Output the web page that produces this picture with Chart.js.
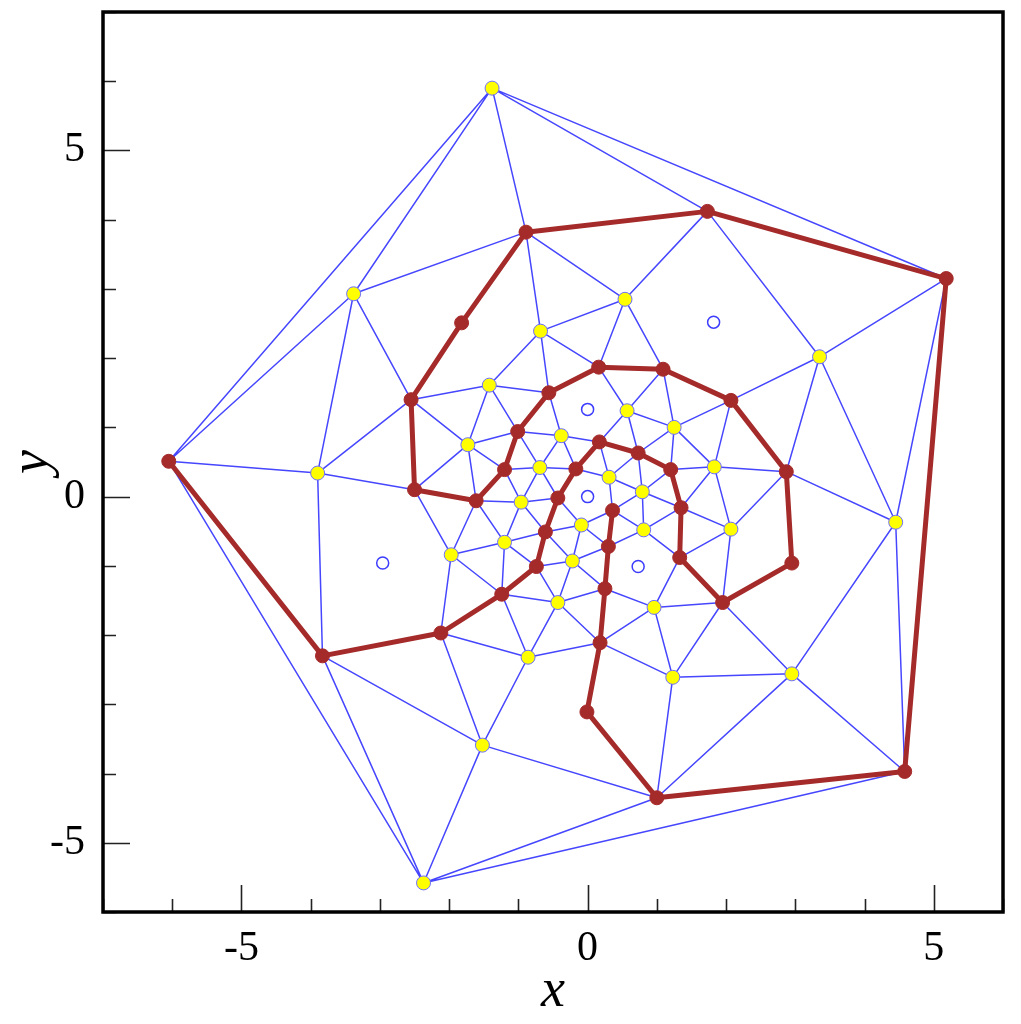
<!DOCTYPE html>
<html>
<head>
<meta charset="UTF-8">
<title>Mesh spiral</title>
<style>
  body { margin: 0; background: #fff; }
  #wrap { width: 1021px; height: 1024px; }
</style>
</head>
<body>
<div id="wrap"><canvas id="meshChart"></canvas></div>
<script src="https://cdn.jsdelivr.net/npm/chart.js"></script>
<script>
// yellow mesh nodes, named y1..y30
const yellowX = [-1.38, -3.38, -3.90, -2.37, -1.52, -0.86, 1.23, 2.95, 4.45, 3.35,
                 0.54, -0.68, -1.42, -1.73, 0.57, 1.25, 1.83, 2.07, 0.96, -0.43,
                 -1.97, -1.20, -0.96, -0.69, -0.38, 0.31, 0.79, -0.09, 0.81, -0.22];
const yellowY = [5.90, 2.93, 0.34, -5.58, -3.59, -2.32, -2.61, -2.56, -0.37, 2.02,
                 2.85, 2.39, 1.61, 0.75, 1.24, 1.00, 0.43, -0.47, -1.60, -1.53,
                 -0.84, -0.66, -0.08, 0.42, 0.88, 0.28, 0.07, -0.41, -0.48, -0.93];

// red spiral nodes in path order, named p0..p35
const redX = [0.36, 0.30, 0.25, 0.18, -0.01, 1.00, 4.58, 5.18, 1.73, -0.89,
              -1.82, -2.55, -2.50, -1.61, -1.20, -1.01, -0.56, 0.16, 1.09, 2.07,
              2.87, 2.95, 1.95, 1.33, 1.35, 1.20, 0.73, 0.17, -0.17, -0.43,
              -0.61, -0.74, -1.24, -2.12, -3.83, -6.05];
const redY = [-0.20, -0.72, -1.33, -2.11, -3.11, -4.35, -3.97, 3.15, 4.12, 3.82,
              2.51, 1.40, 0.10, -0.06, 0.39, 0.94, 1.50, 1.87, 1.84, 1.39,
              0.36, -0.96, -1.53, -0.88, -0.16, 0.39, 0.63, 0.79, 0.40, -0.02,
              -0.51, -1.01, -1.41, -1.97, -2.30, 0.51];

// open circles (cell centres)
const openX = [0.00, 0.00, 1.82, -2.96, 0.73];
const openY = [1.26, 0.00, 2.52, -0.96, -1.01];

// blue mesh edges
const meshEdges = [
  'y1 y2', 'y1 p35', 'y1 p9', 'y1 p8', 'y1 p7',
  'y2 p9', 'y2 p35', 'y2 y3', 'y2 p11',
  'p35 y3', 'p35 y4', 'y3 p11', 'y3 p12', 'y3 p34',
  'p34 y5', 'p34 y4', 'y4 y5', 'y4 p5', 'y4 p6',
  'y5 p33', 'y5 y6', 'y5 p5',
  'y6 p33', 'y6 p32', 'y6 y20', 'y6 p3',
  'p3 y20', 'p3 y19', 'p3 y7',
  'y7 y19', 'y7 p22', 'y7 y8', 'y7 p5', 'p5 y8',
  'y8 p22', 'y8 y9', 'y8 p6', 'p6 y9',
  'p7 y10', 'p7 y9', 'p8 y10', 'p8 y11', 'p9 y12', 'p9 y11',
  'y11 y12', 'y11 p17', 'y11 p18',
  'y10 p19', 'y10 p20', 'y10 y9', 'y9 p20',
  'p20 y17', 'p20 y18', 'p22 y18', 'p22 y19',
  'y18 y17', 'y18 p23', 'y18 p24',
  'y17 p25', 'y17 p19', 'y17 p24', 'y17 y16', 'p19 y16',
  'p11 y13', 'p11 y14', 'p12 y14', 'p12 y21',
  'p13 y14', 'p13 y23', 'p13 y21', 'p13 y22',
  'p14 y14', 'p14 y24', 'p14 y23',
  'y14 y13', 'y14 p15', 'y13 y12', 'y13 p16', 'y13 p15',
  'y12 p16', 'y12 p17', 'p16 y25', 'p17 y15',
  'p18 y15', 'p18 y16', 'y15 y16', 'y15 p27', 'y15 p26',
  'y16 p26', 'y16 p25', 'p26 y26', 'p26 y27', 'p25 y27',
  'p24 y29', 'p24 y27', 'p23 y29', 'p23 y19',
  'p27 y25', 'p27 y26', 'y25 p15', 'y25 y24', 'y25 p28',
  'p15 y24', 'y24 p28', 'y24 y23', 'y24 p29',
  'y23 p29', 'y23 y22', 'y23 p30',
  'y22 p30', 'y22 y21', 'y22 p31', 'y22 p32',
  'y21 p32', 'y21 p33', 'p32 y20', 'p31 y30', 'p31 y20',
  'p30 y28', 'p30 y30', 'p29 y28', 'p28 y26',
  'y26 y27', 'y26 p0', 'y27 p0', 'y27 y29',
  'p0 y28', 'p0 y29', 'y28 y30', 'y28 p1', 'y29 p1',
  'p1 y30', 'y30 y20', 'y30 p2', 'p2 y20', 'p2 y19'
];

const tickLabels = [-5, 0, 5];

function nodeAt(name) {
  const i = parseInt(name.slice(1), 10);
  if (name[0] === 'y') return { x: yellowX[i - 1], y: yellowY[i - 1] };
  return { x: redX[i], y: redY[i] };
}

const meshData = [];
meshEdges.forEach(e => {
  const [a, b] = e.split(' ');
  meshData.push(nodeAt(a), nodeAt(b), { x: NaN, y: NaN });
});

const redData = redX.map((x, i) => ({ x: x, y: redY[i] }));
const yellowData = yellowX.map((x, i) => ({ x: x, y: yellowY[i] }));
const openData = openX.map((x, i) => ({ x: x, y: openY[i] }));

// frame and inward ticks
const frameTicks = {
  id: 'frameTicks',
  afterDraw(chart) {
    const { ctx, chartArea: a } = chart;
    const xs = chart.scales.x, ys = chart.scales.y;
    ctx.save();
    ctx.strokeStyle = '#222';
    ctx.lineWidth = 1.6;
    ctx.beginPath();
    xs.ticks.forEach(t => {
      const px = Math.round(xs.getPixelForValue(t.value)) + 0.5;
      const len = tickLabels.includes(t.value) ? 27 : 13;
      ctx.moveTo(px, a.bottom);
      ctx.lineTo(px, a.bottom - len);
    });
    ys.ticks.forEach(t => {
      const py = Math.round(ys.getPixelForValue(t.value)) + 0.5;
      const len = tickLabels.includes(t.value) ? 27 : 13;
      ctx.moveTo(a.left, py);
      ctx.lineTo(a.left + len, py);
    });
    ctx.stroke();
    ctx.strokeStyle = '#000';
    ctx.lineWidth = 3.5;
    ctx.strokeRect(a.left, a.top, a.right - a.left, a.bottom - a.top);
    ctx.restore();
  }
};

const serif = "'Liberation Serif', 'DejaVu Serif', serif";

new Chart(document.getElementById('meshChart'), {
  type: 'scatter',
  data: {
    datasets: [
      {
        label: 'nodes',
        data: yellowData,
        pointRadius: 7,
        pointBackgroundColor: '#ffff00',
        pointBorderColor: 'rgb(110,110,255)',
        pointBorderWidth: 1,
        order: 0
      },
      {
        label: 'centres',
        data: openData,
        pointRadius: 6,
        pointBackgroundColor: '#ffffff',
        pointBorderColor: 'rgb(60,60,255)',
        pointBorderWidth: 1.5,
        order: 1
      },
      {
        type: 'line',
        label: 'spiral',
        data: redData,
        borderColor: '#a52a2a',
        borderWidth: 5,
        borderJoinStyle: 'round',
        pointRadius: 7,
        pointBackgroundColor: '#a52a2a',
        pointBorderColor: '#a52a2a',
        pointBorderWidth: 1,
        tension: 0,
        fill: false,
        order: 2
      },
      {
        type: 'line',
        label: 'mesh',
        data: meshData,
        borderColor: 'rgb(70,70,255)',
        borderWidth: 1.5,
        pointRadius: 0,
        spanGaps: false,
        tension: 0,
        fill: false,
        order: 3
      }
    ]
  },
  options: {
    responsive: true,
    maintainAspectRatio: false,
    animation: false,
    layout: { padding: { top: 12, right: 18, left: 0, bottom: 0 } },
    plugins: { legend: { display: false }, tooltip: { enabled: false } },
    scales: {
      x: {
        type: 'linear',
        min: -7, max: 6,
        grid: { display: false, drawTicks: false },
        border: { display: false },
        ticks: {
          stepSize: 1, autoSkip: false, padding: 12, color: '#000',
          font: { family: serif, size: 42 },
          maxRotation: 0,
          callback: v => tickLabels.includes(v) ? String(v) : ''
        },
        title: {
          display: true, text: 'x', color: '#000',
          font: { family: serif, size: 54, style: 'italic' },
          padding: 0
        },
        afterFit: s => { s.height = 112; s.paddingLeft = 0; s.paddingRight = 0; }
      },
      y: {
        type: 'linear',
        min: -6, max: 7,
        grid: { display: false, drawTicks: false },
        border: { display: false },
        ticks: {
          stepSize: 1, autoSkip: false, padding: 18, color: '#000',
          font: { family: serif, size: 42 },
          callback: v => tickLabels.includes(v) ? String(v) : ''
        },
        title: {
          display: true, text: 'y', color: '#000',
          font: { family: serif, size: 54, style: 'italic' },
          padding: 0
        },
        afterFit: s => { s.width = 103; s.paddingTop = 0; s.paddingBottom = 0; }
      }
    }
  },
  plugins: [frameTicks]
});
</script>
</body>
</html>
